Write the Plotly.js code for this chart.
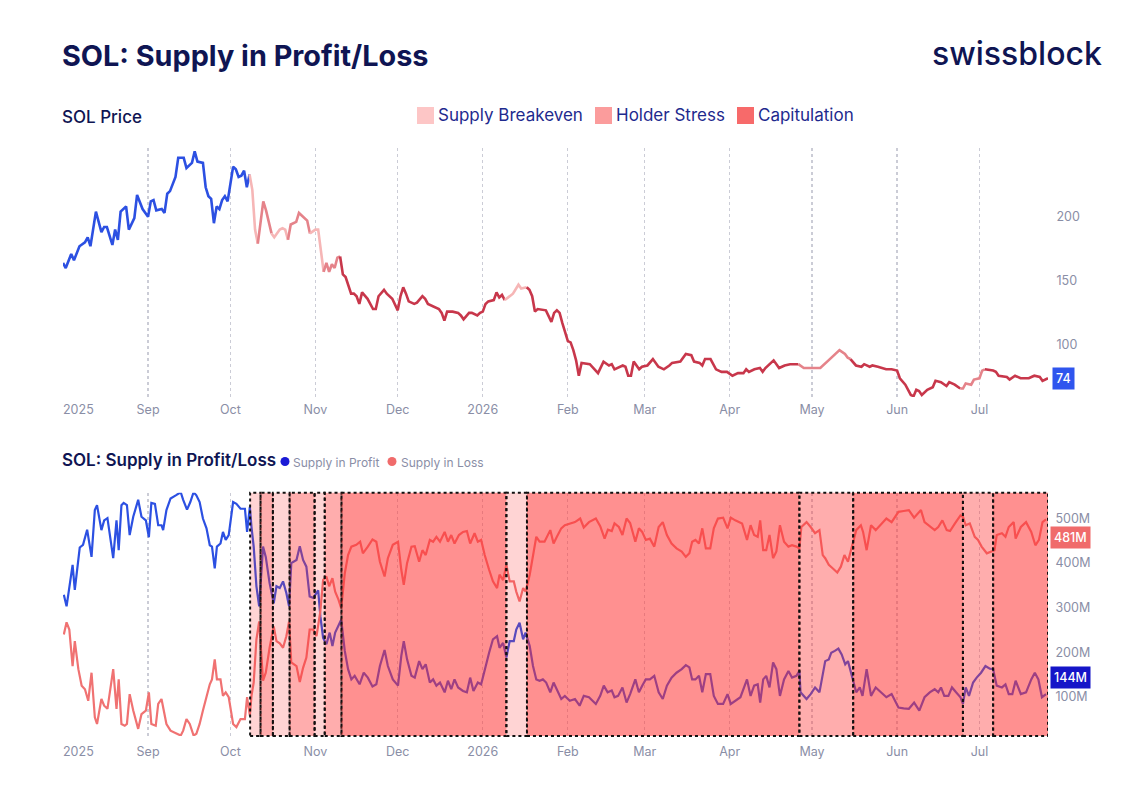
<!DOCTYPE html>
<html><head><meta charset="utf-8">
<script src="https://cdn.plot.ly/plotly-3.0.1.min.js"></script>
<style>html,body{margin:0;padding:0;background:#fff}#chart{width:1140px;height:787px}</style>
</head><body><div id="chart"></div>
<script>
// Days counted from 2025-08-01
const START_UTC = Date.UTC(2025, 7, 1);

const priceDay = [
0,1,3,4,6,8,9,10,12,14, 15,16,18,19,20,21,23,24,26,27, 29,31,32,33,34,36,37,38,39,41,
42,44,45,47,48,49,51,52,53,54, 55,56,57,58,59,60,62,63,64,65, 66,67,68,69,70,71,73,74,76,77,
79,80,81,82,83,85,86,87,89,90, 92,93,94,95,96,97,98,99,100,101, 102,103,105,106,107,108,109,111,113,114,
115,117,118,120,122,123,124,125,126,128, 129,131,132,133,135,137,138,139,140,142, 144,145,146,148,149,151,152,153,154,155,
157,158,159,160,161,163,164,166,167,169, 170,171,172,173,175,176,178,179,180,181, 182,183,184,185,186,187,188,189,192,195,
197,199,200,201,204,205,206,207,208,210, 211,213,214,215,217,219,221,222,225,227, 229,230,232,233,234,236,238,240,242,244,
246,248,249,250,252,254,255,256,259,261, 263,265,268,270,272,274,276,279,281,283, 285,286,287,289,291,292,294,295,297,300,
302,304,305,307,309,310,311,312,313,315, 317,318,320,322,323,325,327,328,329,331, 332,334,335,336,339,340,341,344,345,347,
349,352,354,356,357,359];
const price = [
164,160,171,166,177,180,184,177,204,188, 192,192,178,190,182,204,208,190,199,217, 206,200,212,213,205,206,203,218,220,231,
246,246,238,242,251,243,242,223,216,214, 195,208,206,213,216,212,239,237,231,232, 236,223,233,221,190,179,212,205,187,184,
190,191,190,182,194,196,203,201,197,187, 190,190,171,157,164,157,163,160,168,169, 155,153,140,140,138,132,141,136,128,128,
138,143,140,136,127,138,145,140,134,132, 133,138,136,132,130,128,125,119,126,126, 125,123,120,125,125,123,125,126,132,134,
135,141,137,139,135,138,140,147,144,145, 143,138,126,128,127,127,118,125,127,125, 117,110,103,102,96,88,76,86,85,78,
87,84,85,81,84,83,76,76,87,81, 83,84,87,89,83,81,84,86,87,93, 92,87,86,84,89,89,81,79,79,76,
78,78,81,79,81,82,79,82,88,82, 84,85,85,82,82,82,82,88,92,96, 93,90,89,84,83,85,83,84,83,81,
81,80,74,69,61,60,65,64,61,65, 67,72,71,68,71,69,66,66,70,69, 73,74,80,81,80,79,76,75,73,76,
74,74,76,75,72,74];

const profitDay = [
0.3,1.3,3.5,4.3,6.1,7.3,8.8,10.4,11.6,12.4, 14,15,16.2,18.3,19.5,20.3,21.3,22.1,23.3,24.3,
25.6,27.4,28.6,30.2,31.3,32.2,33.5,34.7,35.9,36.5, 37.7,39.2,41.1,42.9,43.8,45.2,46.4,47.6,48.6,49.8,
51,52.3,53.5,54.3,55.3,56.1,57.4,58.3,59.3,60.4, 62,63.2,64.7,66.3,67.1,68.1,68.7,69.5,70.5,71.5,
72.9,73.9,75.3,76.8,77.8,79,80.2,81.4,82.4,83.2, 85.1,86.3,87.5,88.7,89.9,91.2,93,93.8,94.8,96,
97.2,98.2,99.2,100.4,101.4,102.7,103.9,105.1,106.3,108.1, 109.6,111.1,112.8,114.2,115.5,117.2,118.4,120.2,122.1,123.3,
124.2,125.4,127,128.2,129.8,131,132.2,133.7,134.9,136.1, 137.4,139.1,140.3,141.5,142.7,144,145.8,147.2,148.4,149.6,
151.2,152.4,153.7,155.3,156.7,158.2,159.1,160.4,161.6,162.8, 164.3,165.2,166.4,167.7,168.6,170.1,171.3,172.5,173.7,174.9,
176.1,177.6,178.8,180,181.6,182.9,184.7,186.6,188.3,189.8, 191.7,194.2,195.8,197.1,198.5,200,201,202.3,203.9,205.4,
206.7,208.6,209.9,211.1,212.4,213.9,215.5,217.1,218.6,220.1, 221.8,223.6,225.5,227,228.3,229.3,230.5,231.8,233,234.3,
235.9,237.2,238.7,240.6,242.2,243.4,245,246.9,249.3,250.6, 251.9,253.2,254.1,255.2,256.3,257.5,258.8,260,261.3,262.8,
264.4,265.7,267.3,268.4,268.8,271,272.5,274.1,275.7,276.6, 277.8,279.1,280,281.3,282.6,283.8,285.1,286.1,288,289.1,
290.4,291.4,292.9,294.5,296.2,298.3,300.1,302,304.5,306.4, 308.3,310.2,312.1,314,315.9,317.7,319,320,321.2,322.7,
324,325.5,327.1,328,329,330.2,331.7,333,334.6,336.2, 337.8,339,340.3,342.2,343.5,344.7,346,347.2,349.1,351,
352.9,354.2,355.5,356.8,358.3];
const profitM = [
329,303,396,340,435,441,475,414,519,530, 474,496,501,411,496,429,530,535,530,463,
504,542,504,496,458,535,533,485,485,474, 519,545,552,559,542,520,537,559,552,537,
500,478,440,437,388,437,444,470,452,463, 537,533,522,522,470,526,481,437,348,303,
437,414,355,310,348,344,359,333,303,400, 407,438,407,392,325,322,339,281,232,218,
244,214,244,258,273,203,162,139,147,128, 154,143,123,128,169,205,169,139,125,192,
225,184,147,143,180,162,173,132,139,125, 132,110,136,117,139,121,113,110,143,113,
132,128,162,199,229,236,210,221,188,225, 225,251,266,229,244,214,169,139,136,139,
132,110,132,117,95,102,91,95,80,102, 99,84,102,125,110,114,99,102,121,87,
106,139,110,125,139,139,147,110,95,125, 143,154,162,171,166,139,139,147,110,151,
151,102,84,84,106,84,91,99,139,102, 125,128,87,139,147,121,177,162,102,139,
158,143,147,158,110,95,106,121,110,139, 180,184,199,203,208,195,173,180,139,110,
121,102,162,102,121,110,99,106,76,74, 73,87,69,99,110,117,110,121,102,102,
121,110,99,84,121,102,132,143,154,169, 163,162,125,121,128,106,106,136,106,110,
139,154,139,99,106];

const lossDay = [
0.3,1.3,2.3,3.5,4.3,5.6,6.8,8,9.2,10.4, 11.6,12.4,14,15,16.2,18.3,19.5,20.3,21.3,22.5,
23.3,24.3,25.6,27.4,28.6,30.2,31.3,32.2,33.8,34.7, 35.9,36.5,37.7,39.2,41.1,42.9,43.8,45,46.2,47.6,
48.6,49.8,51,52.3,53.5,54.3,55.3,56.1,57.4,58.3, 59.3,60.4,62,63.2,64.7,66.3,67.1,68.1,68.7,69.5,
70.5,71.5,72.9,73.9,75.3,76.8,77.8,79,80.2,81.4, 82.4,83.2,85.1,86.3,87.5,88.7,89.9,91.2,92.4,93.8,
94.8,96,97,98.2,99.2,100.4,101.4,102.7,103.9,105.1, 106.9,108.3,109.3,111.1,112.8,114.2,115.5,117.2,118.4,120.2,
122.1,123.3,124.2,125.4,127,128.2,129.8,131,132.2,133.7, 134.9,136.1,137.4,139.1,140.3,141.5,142.7,144.3,145.8,147.2,
148.4,150,151.2,152.4,153.7,155.3,156.7,158.2,159.1,160.4, 161.6,162.8,164.3,165.2,166.4,167.7,168.6,170.1,171.3,172.5,
173.7,175.5,177.6,178.8,180,181.6,182.9,184.7,186.6,188.5, 189.8,191.7,194.2,195.8,197.4,198.6,200,201,202.6,203.9,
205.4,206.7,208.6,209.9,211.1,212.4,213.9,215.5,217.1,218.6, 220.1,221.8,223.6,225.5,227,228.3,229.3,230.5,231.8,233,
234.3,235.9,237.2,238.7,240.6,242.2,243.4,245,247.5,249.3, 250.6,251.9,253.2,254.1,255.2,256.3,257.5,258.8,260,261.3,
262.8,264.4,265.7,267.3,268.4,269.1,271,272.5,274.1,275.7, 276.9,277.8,279.1,280.6,282.2,283.5,284.8,286.1,288,289.1,
290.8,291.6,292.9,294.5,296.2,298.3,300.1,302,304.5,306.4, 308.3,310.2,312.7,314,315.9,317.7,319,320.5,322.1,323.3,
325.1,327.1,328,329,330.5,332.3,333.5,334.8,336.7,338.2, 339.5,340.3,342.2,343.5,344.7,346.5,347.2,349.1,351,352.9,
354.4,355.7,357,358.3];
const lossM = [
240,267,251,169,225,162,125,117,91,154, 54,39,95,80,73,162,73,139,39,35,
39,106,69,28,61,69,110,39,35,84, 95,73,39,24,19,13,24,50,39,13,
17,39,69,102,128,139,184,139,139,102, 110,99,39,32,50,50,99,58,102,132,
229,269,136,154,210,258,225,220,210,236, 269,177,169,133,165,188,251,251,236,292,
362,370,348,366,336,318,299,377,418,437, 441,448,422,437,453,448,403,370,411,441,
448,385,351,400,437,438,403,429,418,452, 448,459,448,470,448,463,444,463,470,472,
444,467,448,452,418,385,359,344,374,362, 396,359,359,336,314,344,336,374,418,459,
448,448,474,444,459,478,485,489,492,500, 480,492,500,483,455,475,472,489,481,463,
500,490,448,478,470,452,455,437,481,492, 463,444,433,426,414,422,448,452,444,478,
433,433,478,500,502,478,502,496,489,452, 485,463,459,496,429,429,463,411,426,485,
448,437,440,437,433,481,492,481,467,474, 418,411,396,388,379,392,418,403,448,474,
485,470,429,485,474,489,500,492,515,517, 519,502,519,492,483,474,481,496,474,472,
489,507,504,485,489,459,452,437,422,426, 429,463,467,459,481,492,455,481,492,470,
440,452,492,498];

// Market regimes (day ranges)
const regimeStart = [68.2, 72, 76.5, 82.6, 91.7, 95.4, 101.5, 161.6, 169.1, 268.4, 288, 328, 339];
const regimeEnd   = [72, 76.5, 82.6, 91.7, 95.4, 101.5, 161.6, 169.1, 268.4, 288, 328, 339, 359];
const regimeType  = ['Supply Breakeven','Holder Stress','Supply Breakeven','Holder Stress','Supply Breakeven','Holder Stress',
                     'Capitulation','Supply Breakeven','Capitulation','Holder Stress','Capitulation','Holder Stress','Capitulation'];
const regimeNames = ['Supply Breakeven','Holder Stress','Capitulation'];

const monthTicks  = ['2025-09-01','2025-10-01','2025-11-01','2025-12-01','2026-01-01','2026-02-01','2026-03-01','2026-04-01','2026-05-01','2026-06-01','2026-07-01'];
const monthLabels = ['Sep','Oct','Nov','Dec','2026','Feb','Mar','Apr','May','Jun','Jul'];
const priceTicks  = [100, 150, 200];
const supplyTicks = [100, 200, 300, 400, 500];
const supplyLabels = ['100M','200M','300M','400M','500M'];

const lastPrice = 74, lastLoss = 481, lastProfit = 144;

// ---- styling ----
const W = 1140, H = 787;
const px = x => x / W, py = y => 1 - y / H;
const navy = '#0f1553';
const tickGray = '#8a8ea6';
const FONT = 'Inter, "Noto Sans", sans-serif';
const lineColor = {'Supply Breakeven':'#f6b6b6','Holder Stress':'#e5838a','Capitulation':'#c8374b'};
const fillColor = {'Supply Breakeven':'rgba(255,50,50,0.21)','Holder Stress':'rgba(255,50,50,0.40)','Capitulation':'rgba(255,50,50,0.54)'};
const legendColor = {'Supply Breakeven':'#fdc6c6','Holder Stress':'#fb9c9c','Capitulation':'#f76a6a'};

const toDate = d => new Date(START_UTC + d * 86400000).toISOString().slice(0,19).replace('T',' ');

const traces = [];
// price segments coloured by regime
const phases = [{s:0, e:regimeStart[0], c:'#2c50e2'}].concat(
  regimeStart.map((s,i) => ({s, e:regimeEnd[i], c:lineColor[regimeType[i]]})));
phases.forEach((p, k) => {
  const idx = [];
  priceDay.forEach((d,i) => { if (d >= p.s && (d < p.e || (k === phases.length-1 && d <= p.e))) idx.push(i); });
  if (!idx.length) return;
  if (idx[0] > 0) idx.unshift(idx[0]-1);
  traces.push({
    x: idx.map(i => toDate(priceDay[i])), y: idx.map(i => price[i]),
    type:'scatter', mode:'lines', line:{color:p.c, width:2.6}, hoverinfo:'skip', showlegend:false,
    xaxis:'x', yaxis:'y'
  });
});
traces.push({x: profitDay.map(toDate), y: profitM, type:'scatter', mode:'lines', name:'Supply in Profit',
  line:{color:'#2c50e2', width:2.2}, xaxis:'x2', yaxis:'y2', showlegend:false, hoverinfo:'skip'});
traces.push({x: lossDay.map(toDate), y: lossM, type:'scatter', mode:'lines', name:'Supply in Loss',
  line:{color:'#f07272', width:2.2}, xaxis:'x2', yaxis:'y2', showlegend:false, hoverinfo:'skip'});

const shapes = regimeStart.map((s,i) => ({
  type:'rect', xref:'x2', yref:'y2 domain', x0:toDate(s), x1:toDate(regimeEnd[i]), y0:0, y1:1,
  fillcolor: fillColor[regimeType[i]], line:{color:'#111111', width:2, dash:'3px,3px'}, layer:'above'
}));
// legend squares (top)
const legX = [417, 595, 737];
regimeNames.forEach((n,i) => shapes.push({type:'rect', xref:'paper', yref:'paper',
  x0:px(legX[i]), x1:px(legX[i]+17), y0:py(124), y1:py(107), fillcolor:legendColor[n], line:{width:0}}));
// legend dots (bottom)
shapes.push({type:'circle', xref:'paper', yref:'paper', x0:px(280.5), x1:px(289.5), y0:py(466), y1:py(457), fillcolor:'#1a1ad6', line:{width:0}});
shapes.push({type:'circle', xref:'paper', yref:'paper', x0:px(387.5), x1:px(396.5), y0:py(466), y1:py(457), fillcolor:'#f06b6b', line:{width:0}});

const ann = [];
const txt = (text, x, y, size, color, weight, xanchor='left', extra={}) => ann.push(Object.assign({
  text, xref:'paper', yref:'paper', x:px(x), y:py(y), xanchor, yanchor:'middle', showarrow:false,
  font:{family:FONT, size, color, weight}}, extra));
txt('SOL: Supply in Profit/Loss', 60, 55, 28.8, navy, 700);
txt('swissblock', 1104, 54, 32, navy, 500, 'right');
txt('SOL Price', 60, 117, 17, navy, 500);
regimeNames.forEach((n,i) => txt(n, legX[i]+19, 115, 17, '#1e2a8e', 400));
txt('SOL: Supply in Profit/Loss', 60, 460, 17, navy, 600);
txt('Supply in Profit', 291, 462, 12, tickGray, 400);
txt('Supply in Loss', 399, 462, 12, tickGray, 400);
// first tick label (year)
txt('2025', 61, 409, 12.5, tickGray, 400);
txt('2025', 61, 751, 12.5, tickGray, 400);
// last-value badges
ann.push({text:String(lastPrice), xref:'paper', yref:'y', x:px(1052), y:lastPrice, xanchor:'left', yanchor:'middle',
  showarrow:false, bgcolor:'#2f55ee', borderpad:3, font:{family:FONT, size:12.5, color:'#ffffff', weight:500}});
ann.push({text:lastLoss+'M', xref:'paper', yref:'paper', x:px(1050), y:py(537), xanchor:'left', yanchor:'middle',
  showarrow:false, bgcolor:'#f06b6b', borderpad:3, font:{family:FONT, size:12.5, color:'#ffffff', weight:500}});
ann.push({text:lastProfit+'M', xref:'paper', yref:'y2', x:px(1050), y:lastProfit, xanchor:'left', yanchor:'middle',
  showarrow:false, bgcolor:'#1515c8', borderpad:3, font:{family:FONT, size:12.5, color:'#ffffff', weight:500}});

const xCommon = {
  type:'date', range:[toDate(0), toDate(359)], domain:[px(63), px(1048)],
  tickvals: monthTicks, ticktext: monthLabels, ticks:'', showline:false, zeroline:false,
  showgrid:true, gridcolor:'#cbccd6', griddash:'dot', gridwidth:1.3,
  tickfont:{family:FONT, size:12.5, color:tickGray}, fixedrange:true
};
const layout = {
  width:W, height:H, margin:{l:0, r:0, t:0, b:0}, paper_bgcolor:'#ffffff', plot_bgcolor:'#ffffff',
  showlegend:false, font:{family:FONT},
  xaxis: Object.assign({}, xCommon, {anchor:'y', ticklabelstandoff:3}),
  yaxis: {domain:[py(397), py(148.3)], range:[59.4, 253.4], side:'right', tickvals:priceTicks,
    showgrid:false, zeroline:false, showline:false, ticks:'outside', ticklen:5, tickcolor:'rgba(0,0,0,0)',
    tickfont:{family:FONT, size:12.5, color:tickGray}, anchor:'x', fixedrange:true},
  xaxis2: Object.assign({}, xCommon, {anchor:'y2', ticklabelstandoff:6}),
  yaxis2: {domain:[py(736), py(492.7)], range:[12, 558], side:'right', tickvals:supplyTicks, ticktext:supplyLabels,
    showgrid:false, zeroline:false, showline:false, ticks:'outside', ticklen:4, tickcolor:'rgba(0,0,0,0)',
    tickfont:{family:FONT, size:12.5, color:tickGray}, anchor:'x2', fixedrange:true},
  shapes, annotations: ann
};
Plotly.newPlot('chart', traces, layout, {displayModeBar:false, staticPlot:true});
</script>
</body></html>
